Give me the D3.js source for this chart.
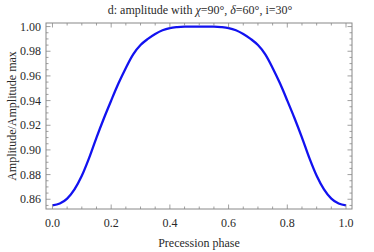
<!DOCTYPE html>
<html><head><meta charset="utf-8">
<script src="https://cdn.jsdelivr.net/npm/d3@7"></script>
<style>body{margin:0;background:#fff}svg{display:block}</style>
</head><body><svg id="c" width="374" height="252"></svg>
<script>
const phase = [0.000,0.025,0.050,0.075,0.100,0.125,0.150,0.175,0.200,0.225,0.250,0.275,0.300,0.325,0.350,0.375,0.400,0.425,0.450,0.475,0.500,
               0.525,0.550,0.575,0.600,0.625,0.650,0.675,0.700,0.725,0.750,0.775,0.800,0.825,0.850,0.875,0.900,0.925,0.950,0.975,1.000];
const amplitude = [0.855,0.8565,0.8605,0.868,0.879,0.8935,0.910,0.9255,0.940,0.954,0.9665,0.9775,0.985,0.990,0.994,0.997,0.9988,0.9996,1.000,1.000,1.000,
                   1.000,1.000,0.9996,0.9988,0.997,0.994,0.990,0.985,0.9775,0.9665,0.954,0.940,0.9255,0.910,0.8935,0.879,0.868,0.8605,0.8565,0.855];
const xTicks = [0.0,0.2,0.4,0.6,0.8,1.0];
const yTicks = [0.86,0.88,0.90,0.92,0.94,0.96,0.98,1.00];
const xMinor = d3.range(0,1.0001,0.05);
const yMinor = d3.range(0.855,1.0001,0.005);

const FONT="'Liberation Serif','Times New Roman',Times,serif";
const L=46,R=352,T=23,B=209;
const svg=d3.select("#c").attr("font-family",FONT);
const x=d3.scaleLinear().domain([-0.022,1.0204]).range([L,R]);
const y=d3.scaleLinear().domain([0.8521,1.0029]).range([B,T]);
const gray="#888";
const tc="#2a2a2a";

// curve
svg.append("path").datum(phase.map((p,i)=>[p,amplitude[i]]))
  .attr("fill","none").attr("stroke","#1212f0").attr("stroke-width",2.3).attr("stroke-linejoin","round")
  .attr("d",d3.line().x(d=>x(d[0])).y(d=>y(d[1])).curve(d3.curveMonotoneX));

// frame
svg.append("rect").attr("x",L).attr("y",T).attr("width",R-L).attr("height",B-T)
  .attr("fill","none").attr("stroke",gray).attr("stroke-width",1);

const g=svg.append("g").attr("stroke",gray).attr("stroke-width",0.8);
function isMajor(v,arr){return arr.some(a=>Math.abs(a-v)<1e-6);}
xMinor.forEach(v=>{const len=isMajor(v,xTicks)?4.5:2.5;const px=x(v);
  g.append("line").attr("x1",px).attr("x2",px).attr("y1",B).attr("y2",B-len);
  g.append("line").attr("x1",px).attr("x2",px).attr("y1",T).attr("y2",T+len);});
yMinor.forEach(v=>{const len=isMajor(v,yTicks)?4.5:2.5;const py=y(v);
  g.append("line").attr("x1",L).attr("x2",L+len).attr("y1",py).attr("y2",py);
  g.append("line").attr("x1",R).attr("x2",R-len).attr("y1",py).attr("y2",py);});

// tick labels
svg.selectAll(".xl").data(xTicks).enter().append("text")
  .attr("x",d=>x(d)).attr("y",227).attr("text-anchor","middle").attr("font-size",12).attr("fill",tc)
  .text(d=>d3.format(".1f")(d));
svg.selectAll(".yl").data(yTicks).enter().append("text")
  .attr("x",41).attr("y",d=>y(d)+4).attr("text-anchor","end").attr("font-size",12).attr("fill",tc)
  .text(d=>d3.format(".2f")(d));

// axis labels
svg.append("text").attr("x",(L+R)/2).attr("y",247).attr("text-anchor","middle").attr("font-size",12).attr("fill",tc).text("Precession phase");
svg.append("text").attr("transform",`translate(16,${(T+B)/2}) rotate(-90)`).attr("text-anchor","middle").attr("font-size",12).attr("fill",tc).text("Amplitude/Amplitude max");

// title
const t=svg.append("text").attr("x",(L+R)/2+1).attr("y",14).attr("text-anchor","middle").attr("font-size",12).attr("fill",tc);
t.append("tspan").text("d: amplitude with ");
t.append("tspan").attr("font-style","italic").text("χ");
t.append("tspan").text("=90°, ");
t.append("tspan").attr("font-style","italic").text("δ");
t.append("tspan").text("=60°, i=30°");
</script></body></html>
